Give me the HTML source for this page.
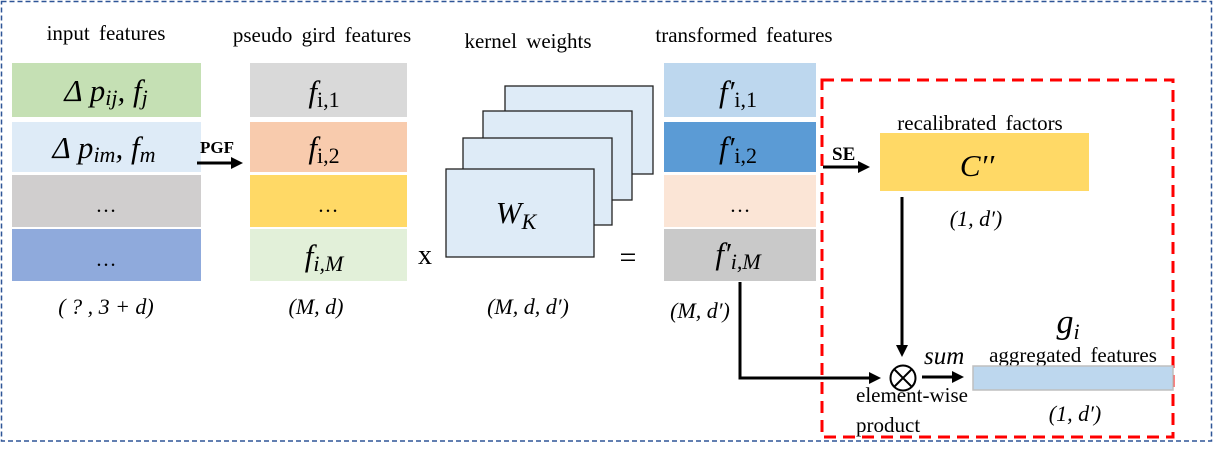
<!DOCTYPE html>
<html><head><meta charset="utf-8"><style>
html,body{margin:0;padding:0;background:#fff;}
svg{display:block;}
text{font-family:"Liberation Serif",serif;fill:#000;}
.t{font-size:21px;word-spacing:4px;}
.m{font-size:31px;font-style:italic;}
.s{font-size:22px;font-style:italic;}
</style></head><body>
<svg width="1216" height="454" viewBox="0 0 1216 454" xmlns="http://www.w3.org/2000/svg">
<defs>
<marker id="ah" markerWidth="4" markerHeight="4" refX="3" refY="2" orient="auto" markerUnits="strokeWidth"><path d="M0,0 L4,2 L0,4 z" fill="#000"/></marker>
</defs>
<rect x="1.5" y="1.5" width="1210" height="439.5" fill="none" stroke="#2f5597" stroke-width="1.5" stroke-dasharray="5,3"/>

<text class="t" x="106" y="40" text-anchor="middle">input features</text>
<text class="t" x="322" y="42" text-anchor="middle">pseudo gird features</text>
<text class="t" x="528" y="48" text-anchor="middle">kernel weights</text>
<text class="t" x="744" y="42" text-anchor="middle">transformed features</text>

<!-- column 1 -->
<rect x="12" y="63" width="189" height="54" fill="#c5e0b4"/>
<rect x="12" y="122" width="189" height="50" fill="#deebf7"/>
<rect x="12" y="175" width="189" height="52" fill="#d0cece"/>
<rect x="12" y="229" width="189" height="52" fill="#8faadc"/>
<text class="m" x="106" y="101" text-anchor="middle">Δ p<tspan font-size="22" dy="4">ij</tspan><tspan dy="-4">, f</tspan><tspan font-size="22" dy="4">j</tspan></text>
<text class="m" x="104" y="158" text-anchor="middle">Δ p<tspan font-size="22" dy="4">im</tspan><tspan dy="-4">, f</tspan><tspan font-size="22" dy="4">m</tspan></text>
<text class="t" x="106" y="212" text-anchor="middle">…</text>
<text class="t" x="106" y="266" text-anchor="middle">…</text>
<text class="s" x="106" y="314" text-anchor="middle" font-style="normal">( ? , 3 + <tspan font-style="italic">d</tspan>)</text>

<!-- PGF arrow -->
<text x="200" y="153" font-size="17" font-weight="bold">PGF</text>
<line x1="197" y1="163" x2="240" y2="163" stroke="#000" stroke-width="3" marker-end="url(#ah)"/>

<!-- column 2 -->
<rect x="250" y="63" width="157" height="54" fill="#d9d9d9"/>
<rect x="250" y="122" width="157" height="50" fill="#f8cbad"/>
<rect x="250" y="175" width="157" height="52" fill="#ffd966"/>
<rect x="250" y="229" width="157" height="52" fill="#e2f0d9"/>
<text class="m" x="324" y="102" text-anchor="middle">f<tspan font-size="22" dy="5" font-style="normal">i,1</tspan></text>
<text class="m" x="324" y="158" text-anchor="middle">f<tspan font-size="22" dy="5" font-style="normal">i,2</tspan></text>
<text class="t" x="328" y="212" text-anchor="middle">…</text>
<text class="m" x="324" y="266" text-anchor="middle">f<tspan font-size="22" dy="5">i,M</tspan></text>
<text class="s" x="316" y="314" text-anchor="middle">(M, d)</text>

<text x="425" y="264" font-family="Liberation Sans,sans-serif" font-size="28" text-anchor="middle">x</text>

<!-- kernel stack -->
<rect x="505" y="86" width="148" height="88" fill="#deebf7" stroke="#222" stroke-width="1.3"/>
<rect x="483" y="111" width="149" height="89" fill="#deebf7" stroke="#222" stroke-width="1.3"/>
<rect x="463" y="138" width="149" height="87" fill="#deebf7" stroke="#222" stroke-width="1.3"/>
<rect x="446" y="169" width="148" height="88" fill="#deebf7" stroke="#222" stroke-width="1.3"/>
<text class="m" x="516" y="223" text-anchor="middle">W<tspan font-size="22" dy="6">K</tspan></text>
<text class="s" x="528" y="314" text-anchor="middle">(M, d, d′)</text>
<text x="628" y="267" font-family="Liberation Sans,sans-serif" font-size="30" text-anchor="middle">=</text>

<!-- column 3 -->
<rect x="664" y="63" width="152" height="54" fill="#bdd7ee"/>
<rect x="664" y="122" width="152" height="50" fill="#5b9bd5"/>
<rect x="664" y="175" width="152" height="52" fill="#fbe5d6"/>
<rect x="664" y="229" width="152" height="52" fill="#c9c9c9"/>
<text class="m" x="738" y="102" text-anchor="middle">f′<tspan font-size="22" dy="5" font-style="normal">i,1</tspan></text>
<text class="m" x="738" y="158" text-anchor="middle">f′<tspan font-size="22" dy="5" font-style="normal">i,2</tspan></text>
<text class="t" x="740" y="212" text-anchor="middle">…</text>
<text class="m" x="738" y="264" text-anchor="middle">f′<tspan font-size="22" dy="5">i,M</tspan></text>
<text class="s" x="700" y="318" text-anchor="middle">(M, d′)</text>

<!-- red dashed box -->
<rect x="822" y="80" width="351" height="357" fill="none" stroke="#ff0000" stroke-width="3" stroke-dasharray="12,7"/>

<!-- SE -->
<text x="832" y="160" font-size="19" font-weight="bold">SE</text>
<line x1="823" y1="167" x2="867" y2="167" stroke="#000" stroke-width="3" marker-end="url(#ah)"/>
<text class="t" x="980" y="130" text-anchor="middle">recalibrated factors</text>
<rect x="880" y="133" width="209" height="58" fill="#ffd966"/>
<text class="m" x="977" y="176" text-anchor="middle">C′′</text>
<text class="s" x="976" y="226" text-anchor="middle" font-style="normal">(1, <tspan font-style="italic">d′</tspan>)</text>

<!-- vertical to circle -->
<line x1="902" y1="197" x2="902" y2="354" stroke="#000" stroke-width="3" marker-end="url(#ah)"/>
<!-- from fM -->
<polyline points="740,282 740,378 878,378" fill="none" stroke="#000" stroke-width="3" marker-end="url(#ah)"/>
<circle cx="903" cy="378" r="12.5" fill="#fff" stroke="#000" stroke-width="2"/>
<line x1="894" y1="369" x2="912" y2="387" stroke="#000" stroke-width="2"/>
<line x1="912" y1="369" x2="894" y2="387" stroke="#000" stroke-width="2"/>

<line x1="922" y1="377" x2="961" y2="377" stroke="#000" stroke-width="3" marker-end="url(#ah)"/>
<text x="924" y="364" font-size="25" font-style="italic">sum</text>
<text x="1068" y="333" font-size="34" font-style="italic" text-anchor="middle">g<tspan font-size="22" dy="6">i</tspan></text>
<text class="t" x="1073" y="362" text-anchor="middle">aggregated features</text>
<rect x="973" y="366" width="200" height="24" fill="#bdd7ee" stroke="#bfbfbf" stroke-width="1.5"/>
<text class="s" x="1075" y="421" text-anchor="middle" font-style="normal">(1, <tspan font-style="italic">d′</tspan>)</text>
<text class="t" x="856" y="402" style="word-spacing:0">element-wise</text>
<text class="t" x="856" y="432">product</text>
</svg>
</body></html>
